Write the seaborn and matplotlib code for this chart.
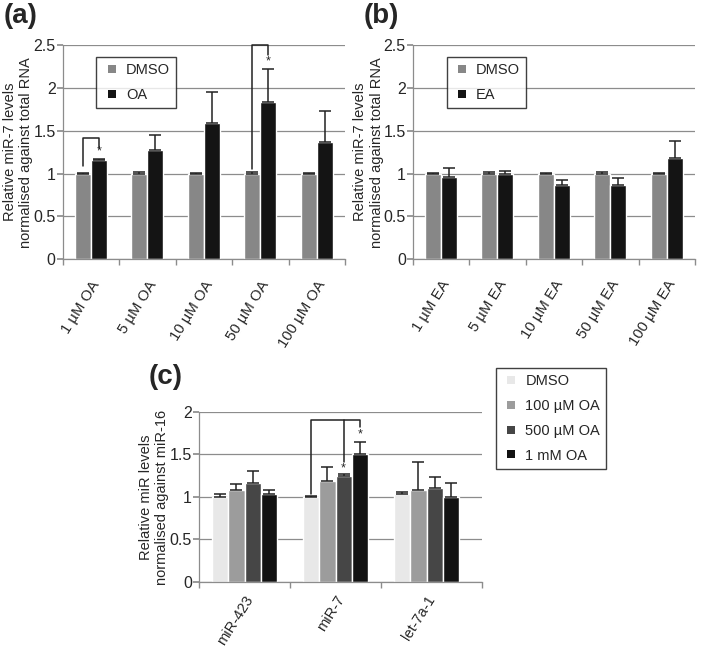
import numpy as np
import pandas as pd
import matplotlib
matplotlib.use("Agg")
import matplotlib.pyplot as plt
from matplotlib.container import BarContainer
from matplotlib.lines import Line2D
import seaborn as sns

# ---------------- data ----------------
conc_oa = ["1 µM OA", "5 µM OA", "10 µM OA", "50 µM OA", "100 µM OA"]
dmso_a = [1.0, 1.0, 1.0, 1.0, 1.0]
dmso_a_err = [0.005, 0.016, 0.012, 0.02, 0.012]
oa_a = [1.16, 1.276, 1.588, 1.837, 1.37]
oa_a_err = [0.015, 0.175, 0.36, 0.385, 0.355]

conc_ea = ["1 µM EA", "5 µM EA", "10 µM EA", "50 µM EA", "100 µM EA"]
dmso_b = [1.0, 1.0, 1.0, 1.0, 1.0]
dmso_b_err = [0.005, 0.016, 0.012, 0.02, 0.012]
ea_b = [0.957, 0.992, 0.868, 0.868, 1.187]
ea_b_err = [0.105, 0.043, 0.062, 0.078, 0.19]

mirs = ["miR-423", "miR-7", "let-7a-1"]
treat_c = ["DMSO", "100 µM OA", "500 µM OA", "1 mM OA"]
vals_c = {
    "DMSO": [1.00, 1.00, 1.03],
    "100 µM OA": [1.08, 1.19, 1.08],
    "500 µM OA": [1.17, 1.25, 1.10],
    "1 mM OA": [1.04, 1.50, 1.00],
}
errs_c = {
    "DMSO": [0.03, 0.01, 0.03],
    "100 µM OA": [0.07, 0.16, 0.33],
    "500 µM OA": [0.14, 0.02, 0.13],
    "1 mM OA": [0.04, 0.15, 0.17],
}

# ---------------- style ----------------
sns.set_theme(style="white")
plt.rcParams["font.family"] = ["Liberation Sans", "DejaVu Sans"]

fig = plt.figure(figsize=(7.05, 6.48), dpi=100)
ax_a = fig.add_axes([0.0887, 0.5998, 0.4007, 0.3308])
ax_b = fig.add_axes([0.5854, 0.5998, 0.4004, 0.3308])
ax_c = fig.add_axes([0.2823, 0.1019, 0.4014, 0.2623])

GRID = "#8c8c8c"
INK = "#222222"


def bar_containers(ax):
    return [c for c in ax.containers if isinstance(c, BarContainer)]


def style_axes(ax, ymax, yticks, ncat, xmax, xpad):
    ax.set_ylim(0, ymax)
    ax.set_xlim(-0.5, xmax)
    ax.set_yticks(yticks)
    ax.set_yticklabels([("%g" % t) for t in yticks], fontsize=11.5)
    ax.yaxis.grid(True, color=GRID, linewidth=0.9)
    ax.set_axisbelow(True)
    for s in ["top", "right"]:
        ax.spines[s].set_visible(False)
    for s in ["left", "bottom"]:
        ax.spines[s].set_color(GRID)
        ax.spines[s].set_linewidth(0.9)
    ax.set_xticks(list(np.arange(ncat) - 0.5) + [xmax], minor=True)
    ax.tick_params(axis="x", which="minor", length=4, color=GRID, direction="out", bottom=True)
    ax.tick_params(axis="x", which="major", length=0, pad=xpad)
    ax.tick_params(axis="y", which="major", length=4, color=GRID, direction="out", left=True, pad=1)
    ax.set_xlabel("")


def add_errbars(ax, errs_by_hue):
    for cont, errs in zip(bar_containers(ax), errs_by_hue):
        xs = [p.get_x() + p.get_width() / 2 for p in cont.patches]
        ys = [p.get_height() for p in cont.patches]
        ax.errorbar(xs, ys, yerr=[np.zeros(len(errs)), errs], fmt="none",
                    ecolor=INK, elinewidth=1.1, capsize=4.5, capthick=1.1, zorder=5)


def centers(ax):
    return [[p.get_x() + p.get_width() / 2 for p in c.patches] for c in bar_containers(ax)]


def square_legend(ax, labels, **kw):
    handles = [Line2D([], [], ls="", marker="s", markersize=5.5, markeredgewidth=0,
                      markerfacecolor=c.patches[0].get_facecolor())
               for c in bar_containers(ax)]
    leg = ax.legend(handles, labels, fontsize=10.5, frameon=True, fancybox=False,
                    edgecolor="#111111", handlelength=1.25, handletextpad=0.35,
                    borderpad=0.42, labelspacing=0.74, borderaxespad=0, **kw)
    leg.get_frame().set_linewidth(1.0)
    return leg


def bracket(ax, x0, y0, x1, y1, ytop):
    ax.plot([x0, x0, x1, x1], [y0, ytop, ytop, y1], color=INK, lw=1.1, zorder=6, clip_on=False)


# ---------- panel (a) ----------
df_a = pd.DataFrame({
    "cond": conc_oa * 2,
    "val": dmso_a + oa_a,
    "grp": ["DMSO"] * 5 + ["OA"] * 5,
})
sns.barplot(data=df_a, x="cond", y="val", hue="grp", palette=["#878787", "#141414"],
            width=0.57, gap=0, saturation=1, errorbar=None, ax=ax_a, legend=False)
add_errbars(ax_a, [dmso_a_err, oa_a_err])
style_axes(ax_a, 2.5, [0, 0.5, 1, 1.5, 2, 2.5], 5, 4.5, 13.5)
ax_a.set_xticks(range(5))
ax_a.set_xticklabels(conc_oa, rotation=58, ha="right", rotation_mode="anchor", fontsize=10.75)
ax_a.set_ylabel("Relative miR-7 levels\nnormalised against total RNA", fontsize=10.5)
ax_a.yaxis.set_label_coords(-0.103, 0.5)
ca = centers(ax_a)
bracket(ax_a, ca[0][0], 1.09, ca[1][0], 1.30, 1.42)
ax_a.text(ca[1][0], 1.19, "*", ha="center", va="bottom", fontsize=9)
bracket(ax_a, ca[0][3], 1.05, ca[1][3], 2.385, 2.5)
ax_a.text(ca[1][3], 2.24, "*", ha="center", va="bottom", fontsize=9)
square_legend(ax_a, ["DMSO", "OA"], loc="upper left", bbox_to_anchor=(0.12, 0.945))

# ---------- panel (b) ----------
df_b = pd.DataFrame({
    "cond": conc_ea * 2,
    "val": dmso_b + ea_b,
    "grp": ["DMSO"] * 5 + ["EA"] * 5,
})
sns.barplot(data=df_b, x="cond", y="val", hue="grp", palette=["#878787", "#141414"],
            width=0.57, gap=0, saturation=1, errorbar=None, ax=ax_b, legend=False)
add_errbars(ax_b, [dmso_b_err, ea_b_err])
style_axes(ax_b, 2.5, [0, 0.5, 1, 1.5, 2, 2.5], 5, 4.5, 13.5)
ax_b.set_xticks(range(5))
ax_b.set_xticklabels(conc_ea, rotation=58, ha="right", rotation_mode="anchor", fontsize=10.75)
ax_b.set_ylabel("Relative miR-7 levels\nnormalised against total RNA", fontsize=10.5)
ax_b.yaxis.set_label_coords(-0.103, 0.5)
square_legend(ax_b, ["DMSO", "EA"], loc="upper left", bbox_to_anchor=(0.12, 0.945))

# ---------- panel (c) ----------
rows = []
for t in treat_c:
    for m, v in zip(mirs, vals_c[t]):
        rows.append({"mir": m, "val": v, "treat": t})
df_c = pd.DataFrame(rows)
sns.barplot(data=df_c, x="mir", y="val", hue="treat", hue_order=treat_c,
            palette=["#e8e8e8", "#9c9c9c", "#464646", "#121212"],
            width=0.714, gap=0, saturation=1, errorbar=None, ax=ax_c, legend=False)
add_errbars(ax_c, [errs_c[t] for t in treat_c])
style_axes(ax_c, 2, [0, 0.5, 1, 1.5, 2], 3, 2.61, 8)
ax_c.set_xticks(range(3))
ax_c.set_xticklabels(mirs, rotation=58, ha="right", rotation_mode="anchor", fontsize=10.5)
ax_c.set_ylabel("Relative miR levels\nnormalised against miR-16", fontsize=10.5)
ax_c.yaxis.set_label_coords(-0.106, 0.5)
cc = centers(ax_c)
xd, x5, x1m = cc[0][1], cc[2][1], cc[3][1]
bracket(ax_c, xd, 1.03, x1m, 1.82, 1.9)
ax_c.plot([x5, x5], [1.9, 1.41], color=INK, lw=1.1, zorder=6)
ax_c.text(x5, 1.27, "*", ha="center", va="bottom", fontsize=9)
ax_c.text(x1m, 1.67, "*", ha="center", va="bottom", fontsize=9)
square_legend(ax_c, treat_c, loc="upper left", bbox_to_anchor=(496 / 705, 1 - 368 / 648),
              bbox_transform=fig.transFigure)

# panel labels
fig.text(4 / 705, 1 - 16 / 648, "(a)", fontsize=20, fontweight="bold", va="center", ha="left")
fig.text(364 / 705, 1 - 16 / 648, "(b)", fontsize=20, fontweight="bold", va="center", ha="left")
fig.text(149 / 705, 1 - 377 / 648, "(c)", fontsize=20, fontweight="bold", va="center", ha="left")

fig.savefig("out.png", dpi=100)
